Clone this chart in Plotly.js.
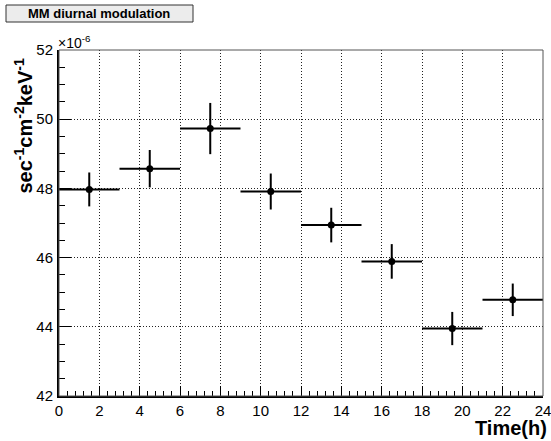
<!DOCTYPE html>
<html>
<head>
<meta charset="utf-8">
<script src="https://cdn.plot.ly/plotly-3.0.1.min.js"></script>
<style>body{margin:0;padding:0;background:#fff}</style>
</head>
<body>
<div id="chart" style="width:551px;height:441px"></div>
<script>
// Time bin centres (h)
const timeH = [1.5, 4.5, 7.5, 10.5, 13.5, 16.5, 19.5, 22.5];
// Half bin width (h)
const timeErr = [1.5, 1.5, 1.5, 1.5, 1.5, 1.5, 1.5, 1.5];
// Rate in units of 1e-6 sec^-1 cm^-2 keV^-1
const rate = [47.97, 48.57, 49.73, 47.91, 46.94, 45.89, 43.95, 44.78];
const rateErr = [0.49, 0.54, 0.74, 0.52, 0.50, 0.50, 0.48, 0.47];
const yTicks = [42, 44, 46, 48, 50, 52];
const xTicks = [0, 2, 4, 6, 8, 10, 12, 14, 16, 18, 20, 22, 24];

const font = "Liberation Sans, Arial, Helvetica, sans-serif";

const trace = {
  x: timeH, y: rate, type: 'scatter', mode: 'markers',
  marker: {color: 'black', size: 7},
  error_x: {type: 'data', array: timeErr, visible: true, color: 'black', thickness: 2, width: 0},
  error_y: {type: 'data', array: rateErr, visible: true, color: 'black', thickness: 2, width: 0},
  hoverinfo: 'x+y', showlegend: false
};

const layout = {
  width: 551, height: 441,
  margin: {l: 59, r: 8, t: 50, b: 45, pad: 0},
  paper_bgcolor: 'white', plot_bgcolor: 'white',
  font: {family: font, size: 15, color: 'black'},
  xaxis: {
    range: [0, 24], tickmode: 'array', tickvals: xTicks, ticktext: xTicks.map(String),
    ticks: 'inside', ticklen: 10, tickwidth: 1, tickcolor: 'black',
    minor: {dtick: 0.4, ticks: 'inside', ticklen: 5, tickcolor: 'black', showgrid: false},
    showgrid: true, gridcolor: '#222', griddash: '1px,2px', gridwidth: 1,
    showline: true, linecolor: 'black', linewidth: 2, zeroline: false,
    tickfont: {family: font, size: 15}, ticklabelstandoff: 0, ticklabeloverflow: 'allow',
    fixedrange: true
  },
  yaxis: {
    range: [42, 52], tickmode: 'array', tickvals: yTicks, ticktext: yTicks.map(String),
    ticks: 'inside', ticklen: 12, tickwidth: 1, tickcolor: 'black',
    minor: {dtick: 0.5, ticks: 'inside', ticklen: 6, tickcolor: 'black', showgrid: false},
    showgrid: true, gridcolor: '#222', griddash: '1px,2px', gridwidth: 1,
    showline: true, linecolor: 'black', linewidth: 2, zeroline: false,
    tickfont: {family: font, size: 15}, ticklabelstandoff: 1, ticklabeloverflow: 'allow',
    fixedrange: true
  },
  shapes: [
    {type: 'rect', xref: 'paper', yref: 'paper', x0: 0, x1: 1, y0: 0, y1: 1,
     line: {color: '#555', width: 1}, fillcolor: 'rgba(0,0,0,0)'},
    {type: 'rect', xref: 'paper', yref: 'paper', xsizemode: 'pixel', ysizemode: 'pixel',
     xanchor: 0, yanchor: 1, x0: -53, x1: 134, y0: 45, y1: 28,
     line: {color: '#333', width: 1}, fillcolor: '#ececec'}
  ],
  annotations: [
    {text: '<b>MM diurnal modulation</b>', xref: 'paper', yref: 'paper', x: 0, y: 1,
     xshift: 40, yshift: 36.5, xanchor: 'center', yanchor: 'middle', showarrow: false,
     font: {family: font, size: 13, color: 'black'}},
    {text: '×10<sup>-6</sup>', xref: 'paper', yref: 'paper', x: 0, y: 1,
     xshift: -3, yshift: -3, xanchor: 'left', yanchor: 'bottom', showarrow: false,
     font: {family: font, size: 14, color: 'black'}},
    {text: '<b>sec<sup>-1</sup>cm<sup>-2</sup>keV<sup>-1</sup></b>', xref: 'paper', yref: 'paper',
     x: 0, y: 1, xshift: -36, yshift: -7, xanchor: 'center', yanchor: 'top', textangle: -90,
     showarrow: false, font: {family: font, size: 20, color: 'black'}},
    {text: '<b>Time(h)</b>', xref: 'paper', yref: 'paper', x: 1, y: 0,
     xshift: 6, yshift: -19, xanchor: 'right', yanchor: 'top', showarrow: false,
     font: {family: font, size: 20, color: 'black'}}
  ]
};

Plotly.newPlot('chart', [trace], layout, {staticPlot: true, displayModeBar: false});
</script>
</body>
</html>
